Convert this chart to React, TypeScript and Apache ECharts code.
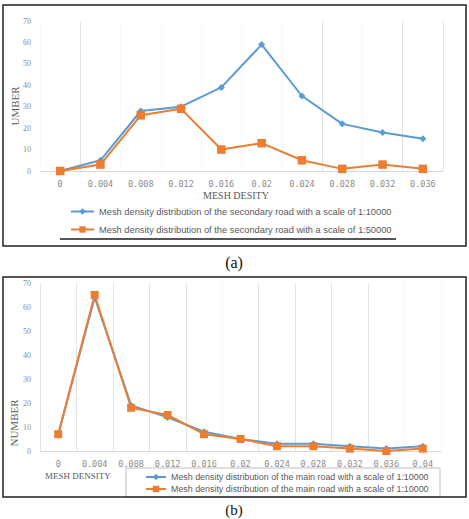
import React, { useEffect, useRef } from "react";
import * as echarts from "echarts";

const catsA = ["0", "0.004", "0.008", "0.012", "0.016", "0.02", "0.024", "0.028", "0.032", "0.036"];
const secondary10000 = [0, 5, 28, 30, 39, 59, 35, 22, 18, 15];
const secondary50000 = [0, 3, 26, 29, 10, 13, 5, 1, 3, 1];

const catsB = ["0", "0.004", "0.008", "0.012", "0.016", "0.02", "0.024", "0.028", "0.032", "0.036", "0.04"];
const mainBlue = [7, 64, 19, 14, 8, 5, 3, 3, 2, 1, 2];
const mainOrange = [7, 65, 18, 15, 7, 5, 2, 2, 1, 0, 1];

const nameA1 = "Mesh density distribution of the secondary road with a scale of 1:10000";
const nameA2 = "Mesh density distribution of the secondary road with a scale of 1:50000";
const nameB1 = "Mesh density distribution of the main road with a scale of 1:10000";
const nameB2 = "Mesh density distribution of the main road with a scale of 1:10000 ";

const BLUE = "#5b9bd5";
const ORANGE = "#ed7d31";
const G = "#e3e3e3";
const F = "#f6f6f6";

export default function App() {
  const ref = useRef<HTMLDivElement>(null);
  useEffect(() => {
    if (!ref.current) return;
    const chart = echarts.init(ref.current, null, { renderer: "svg" });
    const yAxisCommon = (idx: number) => ({
      type: "value",
      gridIndex: idx,
      min: 0,
      max: 70,
      interval: 10,
      axisLine: { show: false },
      axisTick: { show: false },
      splitLine: { show: false },
      axisLabel: { color: "#8c8c8c", fontSize: 8, fontFamily: "Liberation Serif", margin: 9 },
    });
    const xAxisCommon = (idx: number, cats: string[], colors: string[]) => ({
      type: "category",
      gridIndex: idx,
      data: cats,
      boundaryGap: true,
      axisLine: { lineStyle: { color: "#d9d9d9", width: 1 } },
      axisTick: { show: false },
      splitLine: { show: true, interval: 0, lineStyle: { color: colors, width: 1 } },
      axisLabel: { color: "#8c8c8c", fontSize: 8.5, fontFamily: "DejaVu Sans Mono", margin: 8, interval: 0 },
    });
    chart.setOption({
      animation: false,
      backgroundColor: "#ffffff",
      grid: [
        { left: 40, right: 26, top: 21, bottom: 348 },
        { left: 40, right: 28, top: 283, bottom: 68 },
      ],
      xAxis: [
        xAxisCommon(0, catsA, [F, G, F, F, F, F, F, G, F, G, G]),
        xAxisCommon(1, catsB, [G, G, G, G, G, F, G, G, G, G, F, F]),
      ],
      yAxis: [yAxisCommon(0), yAxisCommon(1)],
      legend: [
        {
          data: [nameA1, nameA2],
          orient: "vertical",
          left: 70,
          top: 206,
          padding: 0,
          itemGap: 7,
          itemWidth: 23,
          itemHeight: 8,
          textStyle: { color: "#595959", fontSize: 9.3, lineHeight: 11, fontFamily: "Liberation Sans" },
        },
        {
          data: [nameB1, nameB2],
          orient: "vertical",
          left: 145,
          top: 472,
          padding: 0,
          itemGap: 2,
          itemWidth: 20,
          itemHeight: 8,
          formatter: (n: string) => n.trim(),
          textStyle: { color: "#595959", fontSize: 8.9, lineHeight: 10, fontFamily: "Liberation Sans" },
        },
      ],
      series: [
        {
          name: nameA1, type: "line", xAxisIndex: 0, yAxisIndex: 0, data: secondary10000,
          symbol: "diamond", symbolSize: 7, itemStyle: { color: BLUE }, lineStyle: { color: BLUE, width: 2 },
        },
        {
          name: nameA2, type: "line", xAxisIndex: 0, yAxisIndex: 0, data: secondary50000,
          symbol: "rect", symbolSize: 8.5, itemStyle: { color: ORANGE }, lineStyle: { color: ORANGE, width: 2 },
        },
        {
          name: nameB1, type: "line", xAxisIndex: 1, yAxisIndex: 1, data: mainBlue,
          symbol: "diamond", symbolSize: 7, itemStyle: { color: BLUE }, lineStyle: { color: BLUE, width: 2 },
        },
        {
          name: nameB2, type: "line", xAxisIndex: 1, yAxisIndex: 1, data: mainOrange,
          symbol: "rect", symbolSize: 8, itemStyle: { color: ORANGE }, lineStyle: { color: ORANGE, width: 2 },
        },
      ],
      graphic: [
        { type: "rect", shape: { x: 3, y: 5, width: 463, height: 241 }, style: { fill: "none", stroke: "#222", lineWidth: 1.5 }, z: 10 },
        { type: "line", shape: { x1: 60, y1: 239, x2: 396, y2: 239 }, style: { stroke: "#555", lineWidth: 2 }, z: 10 },
        { type: "text", x: 236, y: 195, style: { text: "MESH DESITY", font: "10px 'Liberation Serif'", fill: "#595959", textAlign: "center", textVerticalAlign: "middle" }, z: 10 },
        { type: "text", x: 15, y: 106, rotation: Math.PI / 2, style: { text: "UMBER", font: "11px 'Liberation Serif'", fill: "#595959", textAlign: "center", textVerticalAlign: "middle" }, z: 10 },
        { type: "text", x: 234, y: 262, style: { text: "(a)", font: "16px 'Liberation Serif'", fill: "#111", textAlign: "center", textVerticalAlign: "middle" }, z: 10 },
        { type: "rect", shape: { x: 3, y: 277, width: 463, height: 220 }, style: { fill: "none", stroke: "#222", lineWidth: 1.5 }, z: 10 },
        { type: "rect", shape: { x: 126, y: 468, width: 314, height: 29 }, style: { fill: "none", stroke: "#bfbfbf", lineWidth: 1 }, z: 9 },
        { type: "text", x: 45, y: 476, style: { text: "MESH DENSITY", font: "9px 'Liberation Serif'", fill: "#595959", textAlign: "left", textVerticalAlign: "middle" }, z: 10 },
        { type: "text", x: 14, y: 423, rotation: Math.PI / 2, style: { text: "NUMBER", font: "11px 'Liberation Serif'", fill: "#595959", textAlign: "center", textVerticalAlign: "middle" }, z: 10 },
        { type: "text", x: 234, y: 510, style: { text: "(b)", font: "15px 'Liberation Serif'", fill: "#111", textAlign: "center", textVerticalAlign: "middle" }, z: 10 },
      ],
    });
    return () => chart.dispose();
  }, []);
  return <div ref={ref} style={{ position: "absolute", left: 0, top: 0, width: 469, height: 519 }} />;
}
